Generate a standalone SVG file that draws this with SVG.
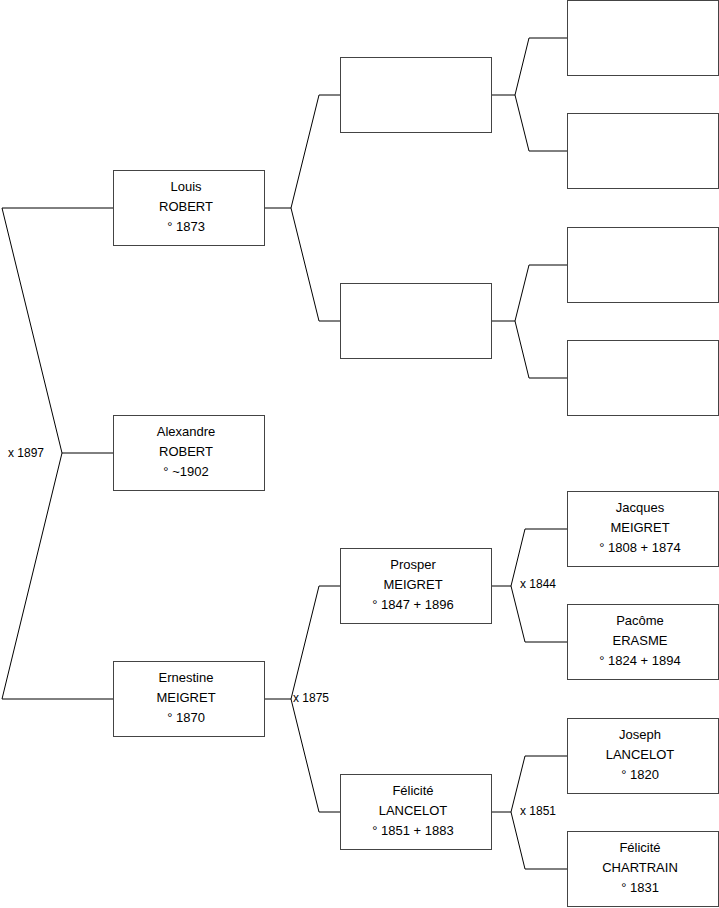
<svg xmlns="http://www.w3.org/2000/svg" width="719" height="908" viewBox="0 0 719 908">
<style>
.box{fill:#fff;stroke:#444;stroke-width:1}
.ln{fill:none;stroke:#000;stroke-width:1}
.t{font-family:"Liberation Sans",Arial,sans-serif;font-size:13px;fill:#000;text-anchor:middle}
.lbl{font-family:"Liberation Sans",Arial,sans-serif;font-size:12px;fill:#000}
</style>
<rect width="719" height="908" fill="#fff"/>
<g id="connectors">
<path class="ln" d="M2,208 H113.5 M2,208 L62,453 L2,699 H113.5 M62,453 H113.5"/>
<path class="ln" d="M264.5,208 H291 M340.5,95 H319 L291,208 L319,321 H340.5"/>
<path class="ln" d="M264.5,699 H291 M340.5,586 H319 L291,699 L319,812 H340.5"/>
<path class="ln" d="M491.5,95 H515 M567.5,38 H529 L515,95 L529,151 H567.5"/>
<path class="ln" d="M491.5,321 H515 M567.5,265 H529 L515,321 L529,378 H567.5"/>
<path class="ln" d="M491.5,586 H511 M567.5,529 H525 L511,586 L525,642 H567.5"/>
<path class="ln" d="M491.5,812 H511 M567.5,756 H525 L511,812 L525,869 H567.5"/>
<text class="lbl" x="8" y="457">x 1897</text>
<text class="lbl" x="293" y="702">x 1875</text>
<text class="lbl" x="520" y="588">x 1844</text>
<text class="lbl" x="520" y="815">x 1851</text>
</g>
<g id="louis"><rect class="box" x="113.5" y="170.5" width="151" height="75"/>
<text class="t" x="186" y="191">Louis</text><text class="t" x="186" y="211">ROBERT</text><text class="t" x="186" y="231">° 1873</text></g>
<g id="alexandre"><rect class="box" x="113.5" y="415.5" width="151" height="75"/>
<text class="t" x="186" y="436">Alexandre</text><text class="t" x="186" y="456">ROBERT</text><text class="t" x="186" y="476">° ~1902</text></g>
<g id="ernestine"><rect class="box" x="113.5" y="661.5" width="151" height="75"/>
<text class="t" x="186" y="682">Ernestine</text><text class="t" x="186" y="702">MEIGRET</text><text class="t" x="186" y="722">° 1870</text></g>
<g id="father1"><rect class="box" x="340.5" y="57.5" width="151" height="75"/></g>
<g id="mother1"><rect class="box" x="340.5" y="283.5" width="151" height="75"/></g>
<g id="prosper"><rect class="box" x="340.5" y="548.5" width="151" height="75"/>
<text class="t" x="413" y="569">Prosper</text><text class="t" x="413" y="589">MEIGRET</text><text class="t" x="413" y="609">° 1847 + 1896</text></g>
<g id="felicite1"><rect class="box" x="340.5" y="774.5" width="151" height="75"/>
<text class="t" x="413" y="795">Félicité</text><text class="t" x="413" y="815">LANCELOT</text><text class="t" x="413" y="835">° 1851 + 1883</text></g>
<g id="gg1"><rect class="box" x="567.5" y="0.5" width="151" height="75"/></g>
<g id="gg2"><rect class="box" x="567.5" y="113.5" width="151" height="75"/></g>
<g id="gg3"><rect class="box" x="567.5" y="227.5" width="151" height="75"/></g>
<g id="gg4"><rect class="box" x="567.5" y="340.5" width="151" height="75"/></g>
<g id="jacques"><rect class="box" x="567.5" y="491.5" width="151" height="75"/>
<text class="t" x="640" y="512">Jacques</text><text class="t" x="640" y="532">MEIGRET</text><text class="t" x="640" y="552">° 1808 + 1874</text></g>
<g id="pacome"><rect class="box" x="567.5" y="604.5" width="151" height="75"/>
<text class="t" x="640" y="625">Pacôme</text><text class="t" x="640" y="645">ERASME</text><text class="t" x="640" y="665">° 1824 + 1894</text></g>
<g id="joseph"><rect class="box" x="567.5" y="718.5" width="151" height="75"/>
<text class="t" x="640" y="739">Joseph</text><text class="t" x="640" y="759">LANCELOT</text><text class="t" x="640" y="779">° 1820</text></g>
<g id="felicite2"><rect class="box" x="567.5" y="831.5" width="151" height="75"/>
<text class="t" x="640" y="852">Félicité</text><text class="t" x="640" y="872">CHARTRAIN</text><text class="t" x="640" y="892">° 1831</text></g>
</svg>
